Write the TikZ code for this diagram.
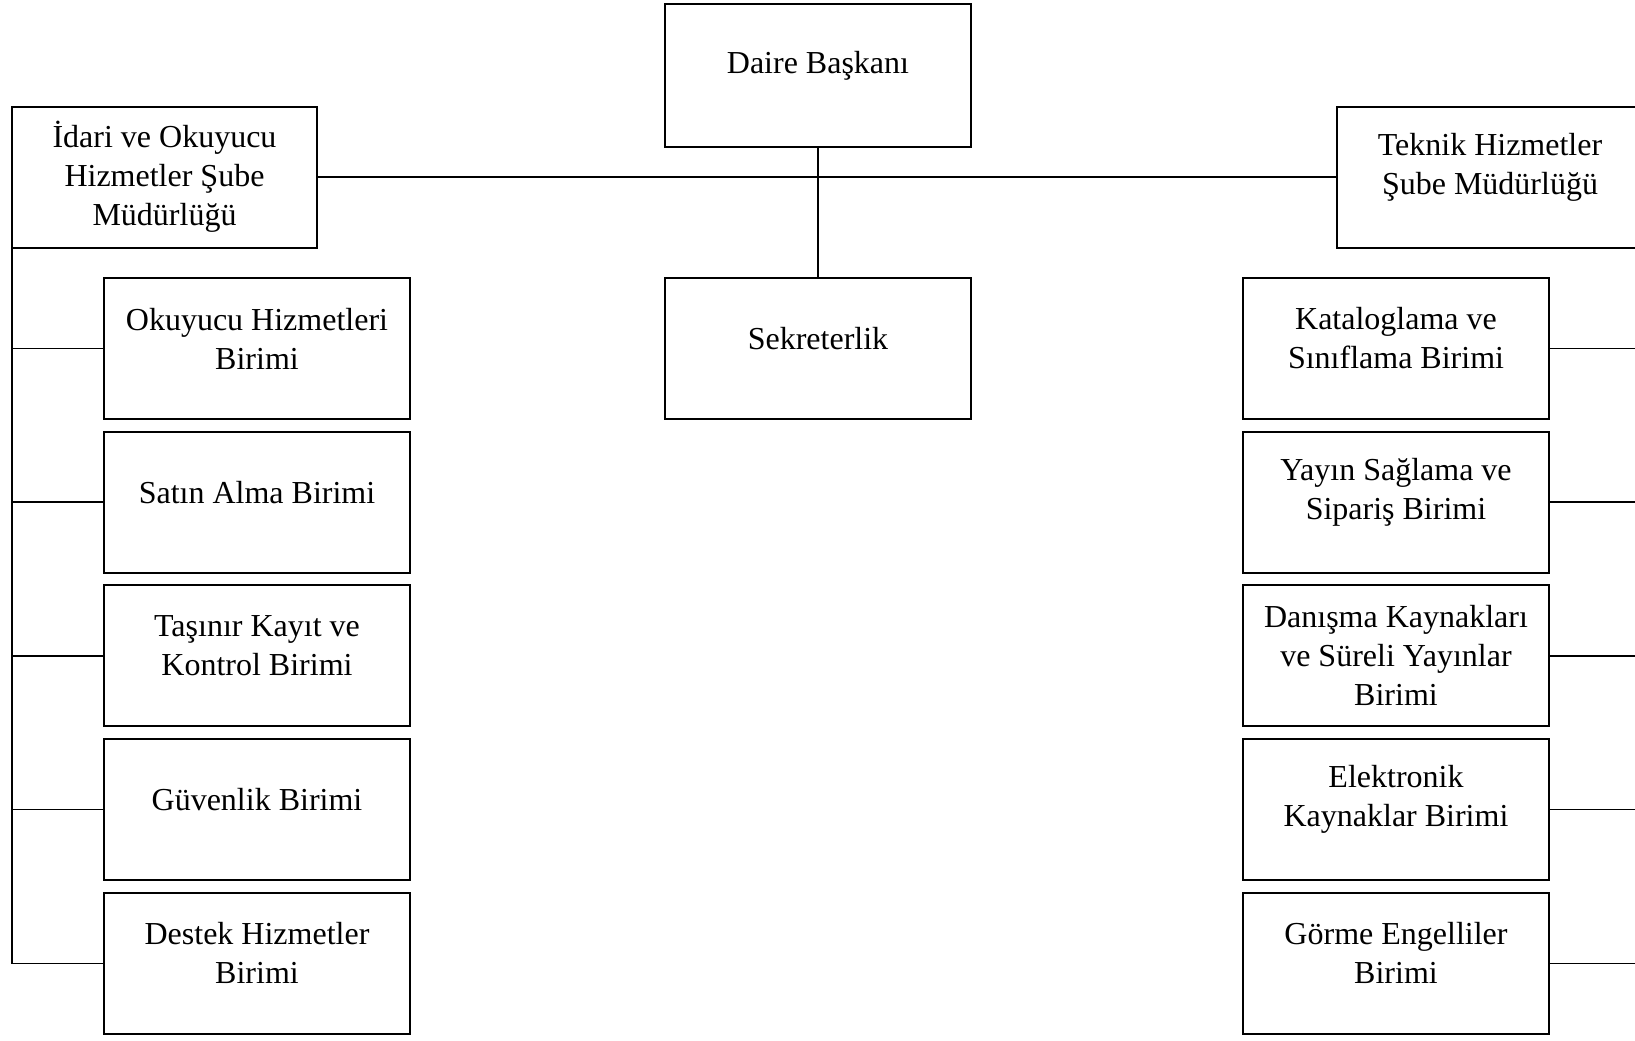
\documentclass[tikz,border=0pt]{standalone}
\usepackage{fontspec}
\setmainfont{Liberation Serif}
\usetikzlibrary{positioning}
\tikzset{
	unit/.style={draw, line width=1pt, minimum width=153pt, minimum height=70.5pt, inner sep=0pt},
	every label/.style={align=center, font=\fontsize{16}{19.5}\selectfont},
	txt/.style={label={[yshift=5pt]center:#1}},
	txtmid/.style={label={center:#1}},
	link/.style={line width=0.75pt},
}

\begin{document}
\begin{tikzpicture}[x=0.5pt, y=-0.5pt, node distance=5.35pt]
	\useasboundingbox (0,0) rectangle (1635,1040);
	\clip (0,0) rectangle (1635,1040);

	\node[unit, minimum height=71.5pt, txt={Daire Başkanı}] (baskan) at (818,75.5) {};
	\node[unit, txt={Sekreterlik}] (sekreter) at (818,348.5) {};
	\node[unit, minimum width=152.5pt, txtmid={İdari ve Okuyucu\\Hizmetler Şube\\Müdürlüğü}] (idari) at (164.5,177) {};
	\node[unit, txt={Teknik Hizmetler\\Şube Müdürlüğü}] (teknik) at (1490,177) {};

	\node[unit, txt={Okuyucu Hizmetleri\\Birimi}] (okuyucu) at (257,348.5) {};
	\node[unit, below=of okuyucu, txt={Satın Alma Birimi}] (satin) {};
	\node[unit, below=of satin, txt={Taşınır Kayıt ve\\Kontrol Birimi}] (tasinir) {};
	\node[unit, below=of tasinir, txt={Güvenlik Birimi}] (guvenlik) {};
	\node[unit, below=of guvenlik, txt={Destek Hizmetler\\Birimi}] (destek) {};

	\node[unit, txt={Kataloglama ve\\Sınıflama Birimi}] (katalog) at (1396,348.5) {};
	\node[unit, below=of katalog, txt={Yayın Sağlama ve\\Sipariş Birimi}] (yayin) {};
	\node[unit, below=of yayin, txtmid={Danışma Kaynakları\\ve Süreli Yayınlar\\Birimi}] (danisma) {};
	\node[unit, below=of danisma, txt={Elektronik\\Kaynaklar Birimi}] (elektronik) {};
	\node[unit, below=of elektronik, txt={Görme Engelliler\\Birimi}] (gorme) {};

	\coordinate (rspine) at (1650,248);

	\draw[link] (idari) -- (teknik);
	\draw[link] (baskan) -- (sekreter);
	\draw[link] ([xshift=0.5pt]idari.south west) |- (destek.west);
	\foreach \u in {okuyucu, satin, tasinir, guvenlik}
		\draw[link] (\u.west) -- (\u.west -| idari.west);
	\foreach \u in {katalog, yayin, danisma, elektronik, gorme}
		\draw[link] (\u.east) -- (\u.east -| rspine);
\end{tikzpicture}
\end{document}
